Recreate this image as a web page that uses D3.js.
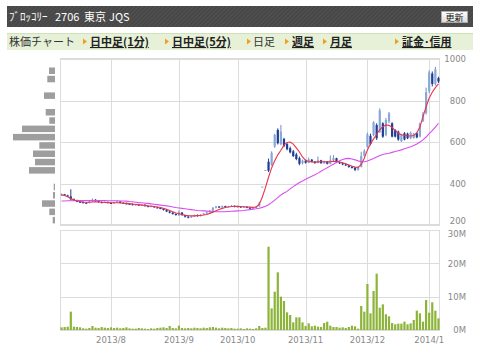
<!DOCTYPE html>
<html><head><meta charset="utf-8">
<script src="https://cdn.jsdelivr.net/npm/d3@7"></script>
<style>
html,body{margin:0;padding:0;background:#fff;}
svg{display:block;}
</style></head><body>
<svg id="c" width="480" height="356"></svg>
<script>
const dates = [
"2013/07/09","2013/07/10","2013/07/11","2013/07/12","2013/07/16","2013/07/17","2013/07/18","2013/07/19","2013/07/22","2013/07/23","2013/07/24","2013/07/25","2013/07/26","2013/07/29","2013/07/30","2013/07/31",
"2013/08/01","2013/08/02","2013/08/05","2013/08/06","2013/08/07","2013/08/08","2013/08/09","2013/08/12","2013/08/13","2013/08/14","2013/08/15","2013/08/16","2013/08/19","2013/08/20","2013/08/21","2013/08/22","2013/08/23","2013/08/26","2013/08/27","2013/08/28","2013/08/29","2013/08/30",
"2013/09/02","2013/09/03","2013/09/04","2013/09/05","2013/09/06","2013/09/09","2013/09/10","2013/09/11","2013/09/12","2013/09/13","2013/09/17","2013/09/18","2013/09/19","2013/09/20","2013/09/24","2013/09/25","2013/09/26","2013/09/27","2013/09/30",
"2013/10/01","2013/10/02","2013/10/03","2013/10/04","2013/10/07","2013/10/08","2013/10/09","2013/10/10","2013/10/11","2013/10/15","2013/10/16","2013/10/17","2013/10/18","2013/10/21","2013/10/22","2013/10/23","2013/10/24","2013/10/25","2013/10/28","2013/10/29","2013/10/30","2013/10/31",
"2013/11/01","2013/11/05","2013/11/06","2013/11/07","2013/11/08","2013/11/11","2013/11/12","2013/11/13","2013/11/14","2013/11/15","2013/11/18","2013/11/19","2013/11/20","2013/11/21","2013/11/22","2013/11/25","2013/11/26","2013/11/27","2013/11/28","2013/11/29",
"2013/12/02","2013/12/03","2013/12/04","2013/12/05","2013/12/06","2013/12/09","2013/12/10","2013/12/11","2013/12/12","2013/12/13","2013/12/16","2013/12/17","2013/12/18","2013/12/19","2013/12/20","2013/12/24","2013/12/25","2013/12/26","2013/12/27","2013/12/30",
"2014/01/06","2014/01/07","2014/01/08","2014/01/09"];

const open = [
344,348,342,338,324,318,312,310,307,306,313,322,315,310,308,311,
306,304,309,314,307,304,302,300,297,299,294,298,291,288,291,285,282,278,272,265,259,253,
246,260,248,240,236,241,248,243,250,255,261,268,283,289,285,291,287,290,292,
287,289,285,288,283,280,282,290,385,465,505,490,578,658,590,615,590,570,555,540,522,498,
510,500,515,505,499,512,498,506,495,512,522,502,498,492,488,480,476,466,480,535,
577,630,634,682,648,690,634,700,690,658,650,604,642,640,618,620,642,626,700,740,
845,930,880,908];
const high = [
352,350,346,372,328,322,316,314,311,316,328,324,318,314,313,313,
310,312,318,316,310,308,306,304,302,301,300,299,294,293,292,288,285,280,275,268,262,256,
270,262,250,244,244,250,251,252,258,264,272,286,292,291,294,293,292,296,294,
292,291,290,290,286,284,292,312,385,465,520,555,640,666,682,620,596,578,562,548,530,515,
515,525,518,508,530,514,510,508,535,537,524,506,500,496,491,486,480,482,553,565,
645,640,700,690,762,695,716,745,695,662,655,640,648,645,650,644,646,694,745,862,
945,940,962,915];
const low = [
340,340,336,318,316,310,306,304,303,304,311,312,308,305,306,304,
302,302,307,305,302,300,298,295,294,292,292,289,286,286,283,280,276,270,262,256,250,245,
244,245,236,232,234,239,240,241,248,253,259,266,280,282,283,285,285,288,285,
284,283,282,281,278,276,280,288,385,462,455,485,572,588,584,575,560,545,528,512,488,492,
496,498,502,495,497,495,494,492,493,508,498,494,488,484,476,472,460,462,478,530,
572,584,628,610,644,620,628,690,622,622,606,600,608,614,614,616,618,622,696,732,
835,868,872,884];
const close = [
348,342,338,324,318,312,310,307,306,313,322,315,310,308,311,306,
304,309,314,307,304,302,300,297,299,294,298,291,288,291,285,282,278,272,265,259,253,248,
262,248,240,236,241,248,243,250,255,261,268,283,289,285,291,287,290,292,287,
289,285,288,283,280,282,290,305,385,465,462,548,634,594,650,580,565,550,532,518,495,510,
500,515,505,499,512,498,506,495,512,522,502,498,492,488,480,476,466,478,532,556,
637,590,695,618,752,626,706,738,626,626,612,634,612,618,645,640,622,688,735,840,
935,880,950,892];
// volume in millions of shares
const volume = [
0.8,0.9,1.0,5.5,1.0,0.9,0.8,0.5,0.4,0.6,1.2,0.7,0.6,0.9,0.7,0.6,
0.8,0.6,0.7,0.5,0.6,0.8,0.5,0.4,0.4,0.6,0.5,0.4,0.3,0.5,0.4,0.6,0.7,0.8,0.6,1.2,0.6,0.5,
1.3,0.6,0.5,0.6,0.5,0.7,0.6,0.5,0.7,0.6,0.8,0.9,0.7,0.5,0.7,0.6,0.5,0.6,0.4,
0.4,0.5,0.3,0.5,0.4,0.3,0.5,1.2,0.6,0.7,25.0,6.5,11.5,17.3,10.0,8.7,5.3,4.5,2.3,3.8,3.8,2.3,
1.2,2.0,1.1,1.3,1.0,0.9,2.1,2.5,1.3,0.9,0.9,0.7,0.8,0.6,0.9,1.3,1.1,0.4,7.2,5.5,
13.8,5.0,11.7,16.9,6.7,7.7,4.7,4.1,2.1,1.7,1.9,1.9,2.5,1.7,2.0,3.0,5.8,5.0,2.5,9.0,
5.2,8.3,5.8,3.5];
const maShort = [
345,342,336,328,320,316,313,311,310,310,311,312,311,310,309,308,
307,307,307,306,305,304,303,301,299,298,296,294,292,291,289,287,284,280,276,270,264,258,
254,250,247,245,244,244,245,246,248,251,256,262,269,275,280,284,287,289,290,
290,289,288,287,286,285,287,300,335,380,430,475,510,538,560,585,598,600,590,572,552,528,
512,506,504,503,504,505,505,504,505,507,506,504,500,495,489,483,479,478,492,522,
562,592,615,636,660,674,682,680,670,655,642,635,632,630,629,631,645,672,722,770,
812,840,862,880];
const maLong = [
316,316,317,317,317,318,318,318,318,318,318,318,318,318,318,317,
317,317,317,316,316,315,313,312,310,308,307,305,304,302,300,298,296,294,292,290,287,284,
282,280,278,276,274,272,270,269,268,267,266,265,264,264,264,264,265,266,267,
268,269,270,272,274,276,278,281,285,290,298,308,320,332,345,354,362,374,385,395,405,412,
420,428,435,442,450,459,468,476,485,493,502,510,516,520,521,518,514,509,505,505,
508,514,520,528,535,540,543,546,550,554,558,562,567,572,577,583,590,600,610,624,
640,655,672,690];

const priceTicks = [200,400,600,800,1000];
const volTicks = [0,10,20,30];
const monthStarts = ["2013/08/01","2013/09/02","2013/10/01","2013/11/01","2013/12/02","2014/01/06"];
const monthLabels = ["2013/8","2013/9","2013/10","2013/11","2013/12","2014/1"];
// price-by-volume histogram (bin lower bounds, relative volume)
const histLow = [200,240,280,320,360,400,440,480,520,560,600,640,680,720,760,800,840,880,920,960];
const histVol = [2.3,5.7,13,2,1.3,0,26,20,22,15.7,42,33,5.7,9.3,0,11,0,7.7,6,0];
const navItems = ["株価チャート","日中足(1分)","日中足(5分)","日足","週足","月足","証金･信用"];

const svg = d3.select("#c");
const L = 60, R = 440, PT = 59, PB = 225, VT = 230, VB = 330;
const gridC = "#dcdcdc";

// ---------- header ----------
const defs = svg.append("defs");
const pat = defs.append("pattern").attr("id","hatch").attr("width",3).attr("height",3)
  .attr("patternUnits","userSpaceOnUse").attr("patternTransform","rotate(45)");
pat.append("rect").attr("width",3).attr("height",3).attr("fill","#474747");
pat.append("rect").attr("width",1).attr("height",3).attr("fill","#525252");
svg.append("rect").attr("x",7).attr("y",6).attr("width",466).attr("height",21).attr("fill","url(#hatch)");
const tf = "'Noto Sans CJK JP', sans-serif";
[["ﾌﾞﾛｯｺﾘｰ",9],["2706",55],["東京",84],["JQS",109]].forEach(([t,xx])=>{
  svg.append("text").attr("x",xx).attr("y",21).attr("fill","#fff")
    .attr("font-family",tf).attr("font-size","11px").text(t);
});
const bg = defs.append("linearGradient").attr("id","btn").attr("x1",0).attr("y1",0).attr("x2",0).attr("y2",1);
bg.append("stop").attr("offset","0").attr("stop-color","#ffffff");
bg.append("stop").attr("offset","1").attr("stop-color","#dcdcdc");
svg.append("rect").attr("x",441.5).attr("y",11.5).attr("width",26).attr("height",11)
  .attr("fill","url(#btn)").attr("stroke","#aaa");
svg.append("text").attr("x",454.5).attr("y",20.5).attr("text-anchor","middle")
  .attr("font-family",tf).attr("font-size","9px").attr("fill","#111").text("更新");

// ---------- nav bar ----------
svg.append("rect").attr("x",7).attr("y",33).attr("width",466).attr("height",17).attr("fill","#e6f1d8");
svg.append("line").attr("x1",7).attr("x2",473).attr("y1",33.5).attr("y2",33.5).attr("stroke","#cfe0bb");
const navX = [9,90,172,253,292,330,402];
const navTri = [null,83,165,247,285,323,395];
const navLink = [false,true,true,false,true,true,true];
navItems.forEach((t,i)=>{
  if (navTri[i] !== null) {
    const tx = navTri[i];
    svg.append("path").attr("d",`M${tx},38.5 L${tx+4},41.5 L${tx},44.5 Z`).attr("fill","#f0a020");
  }
  svg.append("text").attr("x",navX[i]).attr("y",46).attr("font-family",tf)
    .attr("font-size","11px").attr("fill", navLink[i] ? "#222" : "#333")
    .attr("font-weight", navLink[i] ? "bold" : "normal")
    .attr("text-decoration", navLink[i] ? "underline" : "none").text(t);
});

// ---------- scales ----------
const x = d3.scaleBand().domain(dates).range([L,R]).paddingInner(0).paddingOuter(0);
const cx = d => x(d) + x.bandwidth()/2;
const yP = d3.scaleLinear().domain([200,1000]).range([PB,PT]);
const yV = d3.scaleLinear().domain([0,30]).range([VB,VT]);
const hx = d3.scaleLinear().domain([0,d3.max(histVol)]).range([0,42]);

// ---------- panels & grid ----------
function panel(top,bottom,yScale,ticks){
  const g = svg.append("g");
  ticks.forEach(t=>{
    const yy = Math.round(yScale(t))+0.5;
    g.append("line").attr("x1",L).attr("x2",R).attr("y1",yy).attr("y2",yy).attr("stroke",gridC);
  });
  monthStarts.forEach(d=>{
    const xx = Math.round(cx(d))+0.5;
    g.append("line").attr("x1",xx).attr("x2",xx).attr("y1",top).attr("y2",bottom).attr("stroke",gridC);
  });
  g.append("rect").attr("x",L+0.5).attr("y",top+0.5).attr("width",R-L-1).attr("height",bottom-top-1)
    .attr("fill","none").attr("stroke",gridC);
}
panel(PT-1,PB,yP,priceTicks);
panel(VT,VB,yV,volTicks);

// ---------- left histogram ----------
svg.append("g").selectAll("rect").data(histLow).join("rect")
  .attr("x",(d,i)=>55 - hx(histVol[i]))
  .attr("y",d=>yP(d+40)+0.2)
  .attr("width",(d,i)=>hx(histVol[i]))
  .attr("height",d=>yP(d)-yP(d+40)-1.8)
  .attr("fill","#9e9e9e");

// ---------- candles ----------
const idx = d3.range(dates.length);
const upC = "#8aa7d8", dnC = "#1f3d92";
const cg = svg.append("g");
cg.selectAll("line").data(idx).join("line")
  .attr("x1",i=>cx(dates[i])).attr("x2",i=>cx(dates[i]))
  .attr("y1",i=>yP(high[i])).attr("y2",i=>yP(low[i]))
  .attr("stroke",i=>close[i]>=open[i] ? "#6f8fca" : dnC).attr("stroke-width",1);
cg.selectAll("rect").data(idx).join("rect")
  .attr("x",i=>cx(dates[i])-1.1).attr("width",2.2)
  .attr("y",i=>yP(Math.max(open[i],close[i])))
  .attr("height",i=>Math.max(1,Math.abs(yP(open[i])-yP(close[i]))))
  .attr("fill",i=>close[i]>=open[i] ? upC : dnC);

// ---------- moving averages ----------
const line = d3.line().x((d,i)=>cx(dates[i])).y(d=>yP(d));
svg.append("path").datum(maLong).attr("d",line).attr("fill","none").attr("stroke","#d94ef0").attr("stroke-width",1.1);
svg.append("path").datum(maShort).attr("d",line).attr("fill","none").attr("stroke","#e8344c").attr("stroke-width",1.1);

// ---------- volume bars ----------
svg.append("g").selectAll("rect").data(idx).join("rect")
  .attr("x",i=>cx(dates[i])-1.1).attr("width",2.2)
  .attr("y",i=>yV(volume[i])).attr("height",i=>VB-yV(volume[i]))
  .attr("fill","#8cb43a");

// ---------- axes ----------
const af = "'DejaVu Sans', sans-serif";
function styleAxis(g){
  g.select(".domain").remove();
  g.selectAll(".tick line").remove();
  g.selectAll("text").attr("fill","#888").attr("font-family",af).attr("font-size","8.5px");
}
const pAx = svg.append("g").attr("transform","translate(466,0)")
  .call(d3.axisLeft(yP).tickValues(priceTicks).tickSize(0).tickPadding(0).tickFormat(d3.format("d"))).call(styleAxis);
// lift the bottom price label so it clears the volume panel's top label
pAx.selectAll(".tick").filter(d=>d===200).select("text").attr("dy","-0.15em");
const vAx = svg.append("g").attr("transform","translate(466,0)")
  .call(d3.axisLeft(yV).tickValues(volTicks).tickSize(0).tickPadding(0).tickFormat(d=>d+"M")).call(styleAxis);
vAx.selectAll(".tick").filter(d=>d===30).select("text").attr("dy","0.75em");
svg.append("g").attr("transform",`translate(0,${VB})`)
  .call(d3.axisBottom(x).tickValues(monthStarts).tickSize(0).tickPadding(7)
    .tickFormat((d,i)=>monthLabels[i])).call(styleAxis);
</script>
</body></html>
